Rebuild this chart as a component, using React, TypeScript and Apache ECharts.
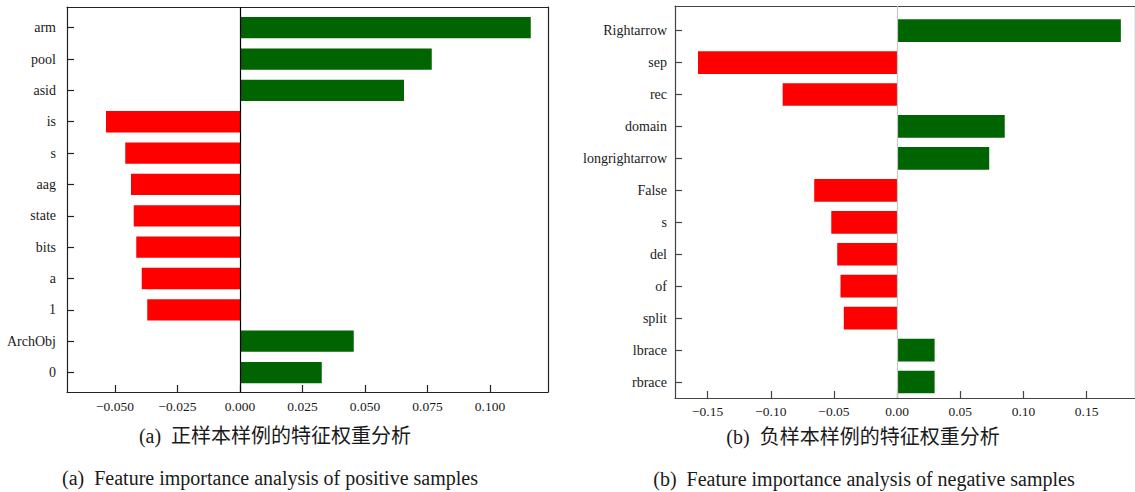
import React, { useEffect, useRef } from "react";
import * as echarts from "echarts";

// ---- data (a) positive samples ----
const posFeatures = ["arm", "pool", "asid", "is", "s", "aag", "state", "bits", "a", "1", "ArchObj", "0"];
const posWeights = [0.1163, 0.0767, 0.0656, -0.0536, -0.0459, -0.0436, -0.0425, -0.0415, -0.0393, -0.0371, 0.0455, 0.0327];
const posTicks = [-0.05, -0.025, 0, 0.025, 0.05, 0.075, 0.1];

// ---- data (b) negative samples ----
const negFeatures = ["Rightarrow", "sep", "rec", "domain", "longrightarrow", "False", "s", "del", "of", "split", "lbrace", "rbrace"];
const negWeights = [0.1771, -0.1576, -0.0906, 0.0852, 0.0729, -0.0656, -0.0521, -0.0474, -0.0448, -0.0422, 0.0297, 0.0297];
const negTicks = [-0.15, -0.1, -0.05, 0, 0.05, 0.1, 0.15];

const captions = {
  aZh: "(a)  正样本样例的特征权重分析",
  aEn: "(a)  Feature importance analysis of positive samples",
  bZh: "(b)  负样本样例的特征权重分析",
  bEn: "(b)  Feature importance analysis of negative samples",
};

const GREEN = "#006400";
const RED = "#ff0000";
const FONT = "Liberation Serif, Times New Roman, serif";
const CJK = "Liberation Serif, Noto Sans CJK SC";
const TEXT = "#1a1a1a";

const fmt = (digits: number) => (v: number) => {
  const s = Math.abs(v).toFixed(digits);
  return v < -1e-9 ? "\u2212" + s : s;
};

export default function App() {
  const ref = useRef<HTMLDivElement>(null);

  useEffect(() => {
    if (!ref.current) return;
    const chart = echarts.init(ref.current, null, { renderer: "svg" });

    const makeRender = (barH: number) => (params: any, api: any) => {
      const v = api.value(0);
      const idx = api.value(1);
      const p0 = api.coord([0, idx]);
      const p1 = api.coord([v, idx]);
      const h = Math.abs(api.size([0, barH])[1]);
      return {
        type: "rect",
        shape: {
          x: Math.min(p0[0], p1[0]),
          y: p0[1] - h / 2,
          width: Math.abs(p1[0] - p0[0]),
          height: h,
        },
        style: { fill: v >= 0 ? GREEN : RED },
      };
    };

    const idxs = (n: number) => Array.from({ length: n }, (_, i) => i);
    const TL = 7;

    const xMain = (gridIndex: number, ticks: number[], digits: number, margin: number, color: string, min: number, max: number) => ({
      type: "value",
      gridIndex,
      position: "bottom",
      min,
      max,
      splitLine: { show: false },
      axisLine: { show: true, onZero: false, lineStyle: { color, width: 1.2 } },
      axisTick: { show: false },
      axisLabel: {
        customValues: ticks,
        formatter: fmt(digits),
        color: TEXT,
        fontFamily: FONT,
        fontSize: 13.5,
        margin,
      },
    });

    const yMain = (gridIndex: number, names: string[], min: number, max: number, margin: number, color: string) => ({
      type: "value",
      gridIndex,
      position: "left",
      inverse: true,
      min,
      max,
      splitLine: { show: false },
      axisLine: { show: true, onZero: false, lineStyle: { color, width: 1.2 } },
      axisTick: { show: false },
      axisLabel: {
        customValues: idxs(names.length),
        formatter: (v: number) => names[Math.round(v)] ?? "",
        color: TEXT,
        fontFamily: FONT,
        fontSize: 14,
        margin,
      },
    });

    // tick-only axes shifted into the plot so that their outward ticks end on the frame
    const tickAxis = (gridIndex: number, position: string, values: number[], color: string, extra: any) => ({
      type: "value",
      gridIndex,
      position,
      offset: -TL,
      splitLine: { show: false },
      axisLine: { show: false, onZero: false },
      axisTick: { show: true, inside: false, length: TL, customValues: values, lineStyle: { color, width: 1.2 } },
      axisLabel: { show: false },
      ...extra,
    });

    const frameAxis = (gridIndex: number, position: string, color: string, extra: any) => ({
      type: "value",
      gridIndex,
      position,
      splitLine: { show: false },
      axisLine: { show: true, onZero: false, lineStyle: { color, width: 1.2 } },
      axisTick: { show: false },
      axisLabel: { show: false },
      ...extra,
    });

    const posX = { min: -0.0692, max: 0.1232 };
    const negX = { min: -0.1758, max: 0.1883 };
    const posY = { min: -0.66, max: 11.62, inverse: true };
    const negY = { min: -0.77, max: 11.5, inverse: true };

    chart.setOption({
      animation: false,
      backgroundColor: "#ffffff",
      grid: [
        { left: 67, top: 7, width: 481, height: 385, show: false },
        { left: 675, top: 6, width: 466, height: 392, show: false },
      ],
      xAxis: [
        xMain(0, posTicks, 3, 7, "#222", posX.min, posX.max),
        xMain(1, negTicks, 2, 6, "#444", negX.min, negX.max),
        frameAxis(0, "top", "#222", posX),
        frameAxis(1, "top", "#444", negX),
        tickAxis(0, "bottom", posTicks, "#222", posX),
        tickAxis(1, "bottom", negTicks, "#444", negX),
      ],
      yAxis: [
        yMain(0, posFeatures, posY.min, posY.max, 11, "#222"),
        yMain(1, negFeatures, negY.min, negY.max, 8, "#444"),
        frameAxis(0, "right", "#222", posY),
        frameAxis(1, "right", "#444", negY),
        tickAxis(0, "left", idxs(posFeatures.length), "#222", posY),
        tickAxis(1, "left", idxs(negFeatures.length), "#444", negY),
      ],
      series: [
        {
          type: "custom",
          xAxisIndex: 0,
          yAxisIndex: 0,
          renderItem: makeRender(0.68),
          encode: { x: 0, y: 1 },
          data: posWeights.map((w, i) => [w, i]),
          markLine: {
            silent: true,
            symbol: "none",
            label: { show: false },
            lineStyle: { color: "#000", type: "solid", width: 1.2 },
            data: [{ xAxis: 0 }],
          },
        },
        {
          type: "custom",
          xAxisIndex: 1,
          yAxisIndex: 1,
          renderItem: makeRender(0.71),
          encode: { x: 0, y: 1 },
          data: negWeights.map((w, i) => [w, i]),
          markLine: {
            silent: true,
            symbol: "none",
            label: { show: false },
            lineStyle: { color: "#c8c8c8", type: "solid", width: 1.2 },
            data: [{ xAxis: 0 }],
          },
        },
      ],
      graphic: [
        { type: "text", x: 275, y: 436, style: { text: captions.aZh, fontFamily: CJK, fontSize: 20, fill: TEXT, textAlign: "center", textVerticalAlign: "middle" } },
        { type: "text", x: 270, y: 478, style: { text: captions.aEn, fontFamily: FONT, fontSize: 20, fill: TEXT, textAlign: "center", textVerticalAlign: "middle" } },
        { type: "text", x: 863, y: 437, style: { text: captions.bZh, fontFamily: CJK, fontSize: 20, fill: TEXT, textAlign: "center", textVerticalAlign: "middle" } },
        { type: "text", x: 864, y: 479, style: { text: captions.bEn, fontFamily: FONT, fontSize: 20, fill: TEXT, textAlign: "center", textVerticalAlign: "middle" } },
      ],
    });

    return () => chart.dispose();
  }, []);

  return (
    <div
      ref={ref}
      style={{ position: "fixed", left: 0, top: 0, width: 1135, height: 492, background: "#fff" }}
    />
  );
}
